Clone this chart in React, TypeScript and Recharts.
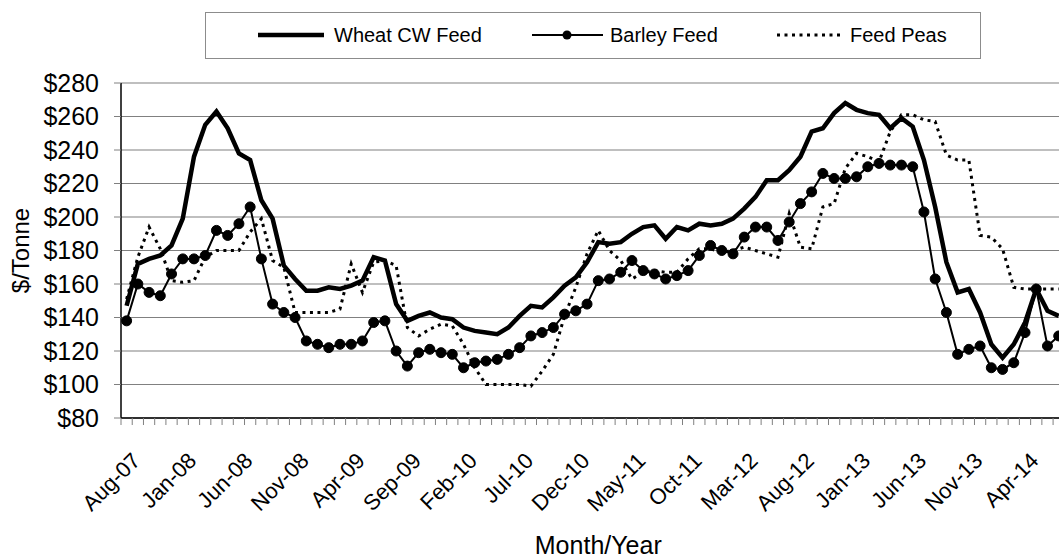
import React from "react";
import { LineChart, Line, XAxis, YAxis, CartesianGrid, Label } from "recharts";

// monthly prices, $/tonne (Aug-07 .. Aug-14; the last month falls outside the visible crop)
const MONTHS = [
  "Aug-07", "Sep-07", "Oct-07", "Nov-07", "Dec-07",
  "Jan-08", "Feb-08", "Mar-08", "Apr-08", "May-08", "Jun-08", "Jul-08", "Aug-08", "Sep-08", "Oct-08", "Nov-08", "Dec-08",
  "Jan-09", "Feb-09", "Mar-09", "Apr-09", "May-09", "Jun-09", "Jul-09", "Aug-09", "Sep-09", "Oct-09", "Nov-09", "Dec-09",
  "Jan-10", "Feb-10", "Mar-10", "Apr-10", "May-10", "Jun-10", "Jul-10", "Aug-10", "Sep-10", "Oct-10", "Nov-10", "Dec-10",
  "Jan-11", "Feb-11", "Mar-11", "Apr-11", "May-11", "Jun-11", "Jul-11", "Aug-11", "Sep-11", "Oct-11", "Nov-11", "Dec-11",
  "Jan-12", "Feb-12", "Mar-12", "Apr-12", "May-12", "Jun-12", "Jul-12", "Aug-12", "Sep-12", "Oct-12", "Nov-12", "Dec-12",
  "Jan-13", "Feb-13", "Mar-13", "Apr-13", "May-13", "Jun-13", "Jul-13", "Aug-13", "Sep-13", "Oct-13", "Nov-13", "Dec-13",
  "Jan-14", "Feb-14", "Mar-14", "Apr-14", "May-14", "Jun-14", "Jul-14", "Aug-14",
];

const WHEAT = [
  147, 172, 175, 177, 183,
  199, 236, 255, 263, 253, 238, 234, 210, 199, 171, 163, 156,
  156, 158, 157, 159, 162, 176, 174, 148, 138, 141, 143, 140,
  139, 134, 132, 131, 130, 134, 141, 147, 146, 152, 159, 164,
  173, 185, 184, 185, 190, 194, 195, 187, 194, 192, 196, 195,
  196, 199, 205, 212, 222, 222, 228, 236, 251, 253, 262, 268,
  264, 262, 261, 253, 259, 254, 234, 206, 173, 155, 157, 143,
  124, 116, 124, 137, 157, 144, 141, null,
];

const BARLEY = [
  138, 160, 155, 153, 166,
  175, 175, 177, 192, 189, 196, 206, 175, 148, 143, 140, 126,
  124, 122, 124, 124, 126, 137, 138, 120, 111, 119, 121, 119,
  118, 110, 113, 114, 115, 118, 122, 129, 131, 134, 142, 144,
  148, 162, 163, 167, 174, 168, 166, 163, 165, 168, 177, 183,
  180, 178, 188, 194, 194, 186, 197, 208, 215, 226, 223, 223,
  224, 230, 232, 231, 231, 230, 203, 163, 143, 118, 121, 123,
  110, 109, 113, 131, 157, 123, 129, null,
];

const PEAS = [
  151, 176, 194, 181, 162,
  161, 162, 176, 180, 180, 180, 191, 199, 174, 170, 143, 143,
  143, 143, 145, 172, 155, 173, 174, 171, 134, 129, 133, 136,
  135, 124, 110, 100, 100, 100, 100, 99, 108, 118, 141, 158,
  178, 192, 180, 174, 163, 167, 168, 167, 167, 175, 181, 181,
  179, 180, 182, 180, 178, 176, 202, 182, 181, 206, 208, 229,
  238, 236, 233, 251, 261, 261, 258, 257, 237, 234, 234, 189,
  188, 181, 158, 157, 157, 157, 157, null,
];

const Y_TICKS = [80, 100, 120, 140, 160, 180, 200, 220, 240, 260, 280];
const LABEL_EVERY = 5;

const SERIES = [
  { key: "wheat", name: "Wheat CW Feed", width: 4.5, dash: undefined as string | undefined, marker: false },
  { key: "barley", name: "Barley Feed", width: 2, dash: undefined as string | undefined, marker: true },
  { key: "peas", name: "Feed Peas", width: 3, dash: "3 4.5", marker: false },
];

const data = MONTHS.map((m, i) => ({
  month: m,
  wheat: WHEAT[i],
  barley: BARLEY[i],
  peas: PEAS[i],
}));

const FONT = "'Liberation Sans', Arial, sans-serif";
const CHART_W = 1100;
const CHART_H = 559;
const Y_AXIS_W = 121;
const STEP = 11.23;
const PLOT_W = STEP * MONTHS.length;

const XTick = (props: any) => {
  const { x, y, payload, index } = props;
  const tx = x + 15;
  const ty = y + 44;
  return (
    <g>
      <line x1={x - STEP / 2} x2={x - STEP / 2} y1={y} y2={y + 7} stroke="#808080" />
      {index === MONTHS.length - 1 && (
        <line x1={x + STEP / 2} x2={x + STEP / 2} y1={y} y2={y + 7} stroke="#808080" />
      )}
      {index % LABEL_EVERY === 0 && (
        <text
          x={tx}
          y={ty}
          transform={`rotate(-45, ${tx}, ${ty})`}
          textAnchor="end"
          fontSize={22}
          fontFamily={FONT}
          fill="#000"
        >
          {payload.value}
        </text>
      )}
    </g>
  );
};

const Legend = () => (
  <svg width={1059} height={70} style={{ position: "absolute", left: 0, top: 0 }}>
    <rect x={205.5} y={12.5} width={775} height={46} fill="#fff" stroke="#8c8c8c" />
    <line x1={258} x2={324} y1={35} y2={35} stroke="#000" strokeWidth={4.5} />
    <text x={334} y={42} fontSize={20} fontFamily={FONT}>{SERIES[0].name}</text>
    <line x1={532} x2={603} y1={35} y2={35} stroke="#000" strokeWidth={2} />
    <circle cx={567} cy={35} r={4.5} fill="#000" />
    <text x={610} y={42} fontSize={20} fontFamily={FONT}>{SERIES[1].name}</text>
    <line x1={777} x2={843} y1={35} y2={35} stroke="#000" strokeWidth={3} strokeDasharray="3 4.5" />
    <text x={850} y={42} fontSize={20} fontFamily={FONT}>{SERIES[2].name}</text>
  </svg>
);

export default function App() {
  return (
    <div
      style={{
        position: "absolute",
        left: 0,
        top: 0,
        width: 1059,
        height: 559,
        overflow: "hidden",
        background: "#fff",
      }}
    >
      <LineChart
        width={CHART_W}
        height={CHART_H}
        data={data}
        margin={{ top: 83, right: CHART_W - Y_AXIS_W - PLOT_W, bottom: 0, left: 0 }}
      >
        <CartesianGrid vertical={false} stroke="#808080" strokeWidth={1.2} />
        <XAxis
          dataKey="month"
          interval={0}
          height={141}
          tickSize={0}
          tickMargin={0}
          tickLine={false}
          axisLine={{ stroke: "#000", strokeWidth: 1.5 }}
          padding={{ left: STEP / 2, right: STEP / 2 }}
          tick={<XTick />}
        >
          <Label
            content={(p: any) => {
              const vb = p.viewBox;
              return (
                <text
                  x={vb.x + vb.width / 2}
                  y={554}
                  textAnchor="middle"
                  fontSize={25}
                  fontFamily={FONT}
                  fill="#000"
                >
                  Month/Year
                </text>
              );
            }}
          />
        </XAxis>
        <YAxis
          width={Y_AXIS_W}
          domain={[80, 280]}
          ticks={Y_TICKS}
          interval={0}
          tickSize={7}
          tickMargin={15}
          tickLine={{ stroke: "#808080" }}
          axisLine={{ stroke: "#000", strokeWidth: 1.5 }}
          tickFormatter={(v: number) => `$${v}`}
          tick={{ fontSize: 25, fontFamily: FONT, fill: "#000" }}
        >
          <Label
            content={(p: any) => {
              const vb = p.viewBox;
              const cy = vb.y + vb.height / 2;
              return (
                <text
                  transform={`translate(29, ${cy}) rotate(-90)`}
                  textAnchor="middle"
                  fontSize={24}
                  fontFamily={FONT}
                  fill="#000"
                >
                  $/Tonne
                </text>
              );
            }}
          />
        </YAxis>
        {SERIES.map((s) => (
          <Line
            key={s.key}
            dataKey={s.key}
            name={s.name}
            type="linear"
            stroke="#000"
            strokeWidth={s.width}
            strokeDasharray={s.dash}
            dot={s.marker ? { r: 5, fill: "#000", stroke: "#000", strokeWidth: 1 } : false}
            activeDot={false}
            isAnimationActive={false}
          />
        ))}
      </LineChart>
      <Legend />
    </div>
  );
}
